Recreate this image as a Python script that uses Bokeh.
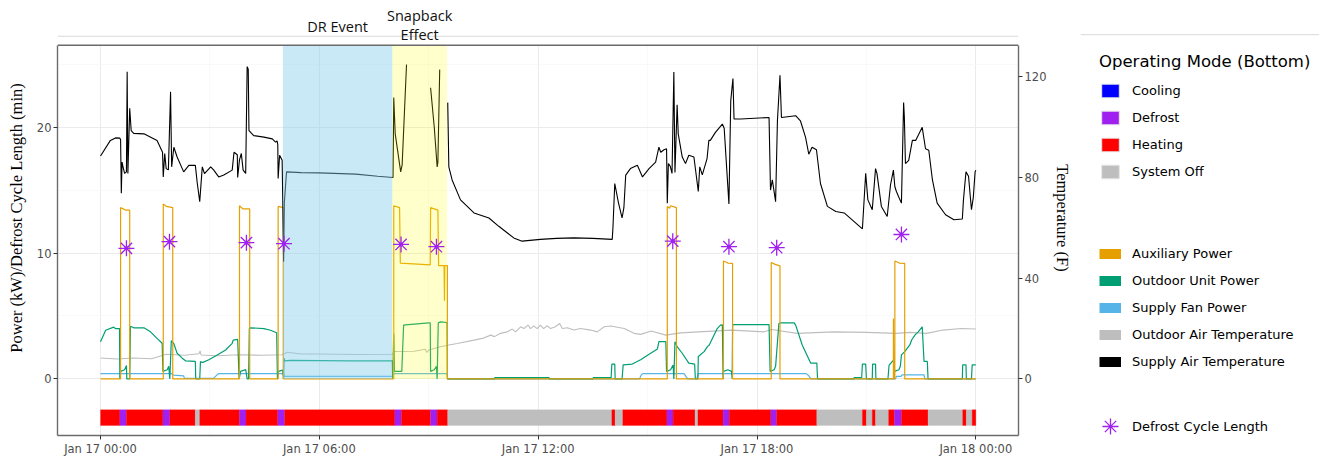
from bokeh.plotting import figure
from bokeh.layouts import row
from bokeh.models import (Range1d, LinearAxis, FixedTicker, Label, Legend, LegendItem,
                          Span, ColumnDataSource)
from bokeh.embed import file_html
from bokeh.resources import INLINE

NaN = float("nan")

# ---------------- data (hours since Jan 17 00:00) ----------------
x_ticks = [0, 6, 12, 18, 24]
x_tick_labels = ["Jan 17 00:00", "Jan 17 06:00", "Jan 17 12:00", "Jan 17 18:00", "Jan 18 00:00"]
y_ticks = [0, 10, 20]
t_ticks = [0, 40, 80, 120]

events = ["DR Event", "Snapback Effect"]
event_start = [5.0, 8.0]
event_end = [8.0, 9.5]

mode_bounds = [0, 0.53, 0.71, 1.71, 1.90, 2.60, 2.72, 3.81, 3.99, 4.86, 5.05, 8.07, 8.25, 9.05,
               9.23, 9.52, 14.02, 14.11, 14.32, 15.53, 15.70, 16.30, 16.38, 17.07, 17.24, 18.38,
               18.54, 19.64, 20.89, 21.00, 21.16, 21.25, 21.61, 21.77, 21.96, 22.69, 23.64, 23.74,
               23.90, 24.00]
mode_state = ["Heating", "Defrost", "Heating", "Defrost", "Heating", "System Off", "Heating",
              "Defrost", "Heating", "Defrost", "Heating", "Defrost", "Heating", "Defrost",
              "Heating", "System Off", "Heating", "System Off", "Heating", "Defrost", "Heating",
              "System Off", "Heating", "Defrost", "Heating", "Defrost", "Heating", "System Off",
              "Heating", "System Off", "Heating", "System Off", "Heating", "Defrost", "Heating",
              "System Off", "Heating", "System Off", "Heating"]
mode_names = ["Cooling", "Defrost", "Heating", "System Off"]
mode_colors = ["#0000FF", "#A020F0", "#FF0000", "#BEBEBE"]

aux_power = [(0, 0), (0.55, 0), (0.55, 13.6), (0.70, 13.4), (0.80, 13.4), (0.80, 0),
             (1.72, 0), (1.72, 13.9), (1.80, 13.7), (1.98, 13.6), (1.98, 0),
             (3.81, 0), (3.81, 13.75), (3.90, 13.5), (4.09, 13.5), (4.09, 0),
             (4.87, 0), (4.87, 13.7), (5.01, 13.6), (5.01, 0),
             (8.04, 0), (8.04, 13.75), (8.20, 13.6), (8.22, 9.2), (9.04, 9.05), (9.05, 13.6),
             (9.25, 13.4), (9.27, 9.0), (9.42, 9.0), (9.43, 6.2), (9.44, 9.0), (9.51, 9.0), (9.51, 0),
             (15.54, 0), (15.54, 13.7), (15.60, 13.55), (15.63, 13.75), (15.79, 13.6), (15.79, 0),
             (17.08, 0), (17.08, 9.37), (17.20, 9.2), (17.33, 9.17), (17.33, 0),
             (18.39, 0), (18.39, 9.25), (18.50, 9.1), (18.63, 8.98), (18.63, 0),
             (21.74, 0), (21.74, 4.8), (21.75, 0), (21.78, 0), (21.78, 9.37), (21.90, 9.2),
             (22.05, 9.17), (22.05, 0), (24.0, 0)]

outdoor_power = [(0.00, 2.96), (0.14, 3.87), (0.36, 4.11), (0.41, 4.0), (0.52, 4.0), (0.53, 0.0),
                 (0.55, 0.6), (0.66, 0.73), (0.71, 1.07), (0.72, 0.0), (0.80, 0.0), (0.82, 4.19),
                 (0.91, 4.06), (1.19, 4.06), (1.37, 3.74), (1.55, 3.22), (1.69, 2.83), (1.71, 0.6),
                 (1.83, 0.73), (1.87, 1.0), (1.90, 0.0), (1.94, 3.04), (2.01, 2.8), (2.10, 2.04),
                 (2.24, 1.65), (2.33, 1.44), (2.60, 1.39), (2.61, 0.0), (2.72, 0.0), (2.74, 1.39),
                 (2.79, 1.3), (2.97, 1.52), (3.20, 1.91), (3.43, 2.30), (3.61, 2.83), (3.64, 3.09),
                 (3.76, 3.14), (3.80, 0.0), (3.84, 0.6), (3.98, 0.75), (4.02, 0.0), (4.06, 0.0),
                 (4.08, 4.0), (4.11, 4.06), (4.48, 4.0), (4.66, 3.87), (4.83, 3.67), (4.85, 0.0),
                 (4.88, 0.6), (4.99, 0.7), (5.02, 0.0), (5.03, 1.65), (5.05, 1.44), (5.21, 1.47),
                 (6.85, 1.44), (8.00, 1.44), (8.01, 0.0), (8.04, 3.61), (8.06, 0.6), (8.23, 0.6),
                 (8.26, 0.6), (8.31, 4.27), (8.36, 4.3), (9.00, 4.45), (9.04, 4.45), (9.05, 0.6),
                 (9.15, 0.73), (9.21, 1.0), (9.23, 0.0), (9.26, 4.45), (9.32, 4.53), (9.45, 4.5),
                 (9.50, 4.45), (9.51, 0.0), (10.80, 0.0), (10.81, 0.1), (12.30, 0.1), (12.31, 0.0),
                 (13.50, 0.0), (13.51, 0.1), (14.00, 0.1), (14.02, 1.18), (14.10, 1.18), (14.11, 0.0),
                 (14.30, 0.0), (14.33, 1.12), (14.58, 1.18), (14.81, 1.52), (15.04, 1.96),
                 (15.27, 2.38), (15.31, 2.96), (15.50, 2.96), (15.52, 0.6), (15.63, 0.73),
                 (15.70, 1.1), (15.72, 0.0), (15.75, 2.96), (15.81, 2.57), (15.95, 2.04),
                 (16.13, 1.26), (16.29, 1.18), (16.31, 0.0), (16.38, 0.0), (16.39, 1.78),
                 (16.44, 1.9), (16.55, 2.17), (16.64, 2.57), (16.69, 2.7), (16.91, 4.0),
                 (17.00, 4.27), (17.05, 4.3), (17.07, 0.0), (17.08, 0.6), (17.20, 0.73),
                 (17.30, 0.6), (17.32, 0.0), (17.33, 4.27), (17.37, 4.32), (18.33, 4.32),
                 (18.36, 0.6), (18.47, 0.73), (18.51, 1.0), (18.60, 4.40), (18.65, 4.45),
                 (19.02, 4.45), (19.06, 4.27), (19.24, 2.7), (19.47, 1.26), (19.64, 1.26),
                 (19.66, 0.0), (20.65, 0.0), (20.66, 0.1), (20.87, 0.1), (20.89, 1.18),
                 (20.98, 1.18), (21.00, 0.0), (21.16, 0.0), (21.17, 1.18), (21.25, 1.18),
                 (21.26, 0.0), (21.59, 0.0), (21.62, 1.07), (21.71, 1.39), (21.76, 1.52),
                 (21.77, 0.6), (21.89, 0.73), (21.93, 1.0), (21.96, 1.91), (22.05, 2.17),
                 (22.19, 2.70), (22.24, 3.09), (22.33, 3.48), (22.42, 3.74), (22.53, 4.14),
                 (22.58, 1.39), (22.67, 1.39), (22.69, 0.0), (23.63, 0.0), (23.64, 1.12),
                 (23.73, 1.12), (23.74, 0.0), (23.88, 0.0), (23.90, 1.12), (24.00, 1.12)]

fan_power = [(0, 0.42), (1.95, 0.42), (2.00, 0.3), (2.28, 0.25), (2.30, 0.05), (3.10, 0.05),
             (3.20, 0.35), (3.25, 0.42), (5.02, 0.42), (5.04, 0.2), (8.00, 0.2), (8.03, 0.42),
             (9.50, 0.42), (9.52, 0.0), (14.78, 0.0), (14.82, 0.3), (14.87, 0.42), (16.00, 0.42),
             (16.05, 0.2), (16.10, 0.0), (16.35, 0.0), (16.39, 0.42), (19.35, 0.42),
             (19.42, 0.25), (19.48, 0.0), (21.80, 0.0), (21.82, 0.2), (21.95, 0.2),
             (21.97, 0.32), (22.58, 0.32), (22.60, 0.0), (24.0, 0.0)]

outdoor_air_temp = [(0.00, 8.3), (0.46, 7.9), (0.90, 8.3), (1.40, 8.0), (1.80, 9.8), (2.30, 9.4),
                    (2.70, 10.0), (2.73, 11.1), (2.76, 9.5), (3.20, 9.2), (3.80, 9.6), (4.40, 9.4),
                    (4.98, 9.6), (5.12, 10.6), (5.50, 9.9), (6.00, 9.9), (7.00, 9.7), (8.00, 9.8),
                    (8.05, 10.9), (8.60, 11.0), (8.90, 11.8), (8.95, 10.5), (9.00, 11.5),
                    (9.32, 12.8), (9.55, 13.5), (9.78, 14.1), (10.24, 15.4), (10.47, 16.1),
                    (10.70, 17.4), (10.80, 16.8), (10.97, 18.1), (11.15, 18.7), (11.29, 19.8),
                    (11.38, 18.7), (11.52, 20.7), (11.61, 20.0), (11.72, 21.4), (11.79, 20.0),
                    (11.88, 21.1), (11.97, 20.0), (12.06, 21.4), (12.15, 20.0), (12.24, 21.1),
                    (12.34, 20.0), (12.47, 20.7), (12.59, 22.0), (12.66, 20.0), (12.80, 20.3),
                    (12.98, 19.4), (13.16, 20.0), (13.44, 19.4), (13.62, 18.7), (13.81, 20.7),
                    (13.99, 21.0), (14.36, 20.0), (14.63, 18.1), (14.81, 17.7), (15.10, 19.0),
                    (15.50, 17.4), (15.90, 18.3), (16.40, 18.7), (17.30, 19.4), (18.20, 18.7),
                    (18.40, 19.6), (19.10, 18.1), (20.10, 18.7), (21.00, 18.5), (21.80, 18.1),
                    (22.20, 18.5), (22.65, 18.1), (23.10, 19.4), (23.60, 20.0), (24.00, 19.8)]

supply_air_temp = [(0.00, 88.5), (0.27, 94.7), (0.41, 95.7), (0.53, 95.6), (0.55, 95.0),
                   (0.57, 73.7), (0.59, 86.1), (0.62, 84.0), (0.66, 81.6), (0.71, 82.2),
                   (0.73, 122.0), (0.75, 81.6), (0.80, 107.5), (0.84, 98.6), (0.91, 97.5),
                   (1.19, 97.3), (1.55, 94.7), (1.70, 90.0), (1.72, 80.2), (1.76, 89.5),
                   (1.80, 83.5), (1.86, 83.0), (1.92, 114.0), (1.95, 84.2), (2.01, 92.0),
                   (2.10, 88.1), (2.28, 82.2), (2.42, 84.8), (2.60, 84.8), (2.65, 78.0),
                   (2.72, 70.4), (2.79, 84.2), (2.85, 81.5), (3.02, 84.2), (3.10, 83.0),
                   (3.24, 80.2), (3.38, 81.0), (3.61, 82.9), (3.66, 90.0), (3.75, 89.0),
                   (3.76, 80.0), (3.81, 87.0), (3.86, 89.5), (3.91, 82.9), (3.98, 81.6),
                   (4.02, 124.0), (4.05, 123.0), (4.07, 98.6), (4.20, 96.6), (4.48, 96.0),
                   (4.71, 95.3), (4.80, 94.0), (4.84, 94.5), (4.86, 93.0), (4.87, 79.6),
                   (4.91, 88.8), (4.98, 86.8), (5.02, 46.5), (5.04, 70.0), (5.10, 82.2),
                   (5.50, 81.9), (6.00, 81.8), (7.00, 81.3), (7.60, 80.5), (8.02, 80.0),
                   (8.04, 111.7), (8.08, 97.3), (8.23, 82.2), (8.27, 85.0), (8.39, 124.8),
                   (8.40, NaN), (9.05, 115.6), (9.15, 100.0), (9.23, 84.2), (9.25, 86.0),
                   (9.30, 122.8), (9.31, NaN), (9.52, 109.7), (9.55, 84.2), (9.64, 79.0),
                   (9.87, 71.1), (10.24, 65.9), (10.65, 63.9), (10.92, 60.6), (11.33, 56.0),
                   (11.56, 54.7), (12.06, 55.4), (12.50, 55.8), (12.98, 56.0), (13.50, 55.8),
                   (14.03, 55.4), (14.05, 60.0), (14.10, 77.6), (14.20, 70.0), (14.30, 63.9),
                   (14.35, 68.0), (14.40, 80.9), (14.53, 83.5), (14.72, 84.8), (14.86, 80.2),
                   (15.04, 83.5), (15.22, 86.1), (15.31, 92.0), (15.36, 90.0), (15.45, 91.0),
                   (15.52, 91.4), (15.54, 69.8), (15.57, 85.5), (15.62, 84.5), (15.67, 81.6),
                   (15.72, 121.9), (15.75, 82.0), (15.81, 108.8), (15.84, 97.3), (15.95, 88.1),
                   (16.04, 85.5), (16.13, 88.8), (16.27, 88.1), (16.39, 74.4), (16.43, 84.2),
                   (16.50, 81.0), (16.63, 87.5), (16.68, 94.7), (16.72, 94.7), (16.86, 97.9),
                   (17.05, 101.2), (17.10, 99.5), (17.23, 69.5), (17.28, 110.4), (17.34, 119.3),
                   (17.37, 103.2), (17.55, 103.2), (18.33, 103.8), (18.37, 75.0), (18.42, 79.0),
                   (18.51, 70.4), (18.56, 102.5), (18.63, 120.6), (18.67, 103.8), (19.06, 104.5),
                   (19.19, 102.5), (19.33, 96.0), (19.42, 89.2), (19.51, 92.0), (19.63, 91.0),
                   (19.74, 77.6), (19.93, 68.5), (20.16, 66.5), (20.39, 65.9), (20.89, 59.6),
                   (20.98, 81.6), (21.04, 71.1), (21.16, 67.2), (21.25, 83.5), (21.29, 81.5),
                   (21.41, 68.5), (21.57, 64.5), (21.66, 77.0), (21.74, 82.9), (21.78, 76.3),
                   (21.82, 74.5), (21.88, 72.4), (21.96, 69.8), (22.02, 109.7), (22.04, 104.0),
                   (22.07, 85.5), (22.16, 86.8), (22.26, 94.7), (22.35, 94.7), (22.53, 99.9),
                   (22.62, 91.4), (22.71, 90.8), (22.81, 79.0), (22.94, 69.8), (23.17, 65.2),
                   (23.40, 63.2), (23.63, 63.5), (23.66, 71.0), (23.73, 82.2), (23.80, 80.5),
                   (23.88, 67.2), (23.93, 72.0), (23.98, 82.2), (24.00, 82.9)]

defrost_time = [0.71, 1.89, 4.00, 5.03, 8.24, 9.21, 15.69, 17.23, 18.54, 21.96]
defrost_length = [10.37, 10.9, 10.82, 10.74, 10.68, 10.5, 10.94, 10.5, 10.42, 11.47]

series_names = ["Auxiliary Power", "Outdoor Unit Power", "Supply Fan Power",
                "Outdoor Air Temperature", "Supply Air Temperature"]
series_colors = ["#E69F00", "#009E73", "#56B4E9", "#BEBEBE", "black"]
DEFROST_COLOR = "#A020F0"

# ---------------- layout constants (pixels / axis limits) ----------------
FIG_H = 458
MAIN_W = 1080
LEG_W = 239
FRAME_L, FRAME_R_BORDER = 57, 62
FRAME_BOTTOM_BORDER = 20
PANEL_TOP_PX = 45                   # panel top, px from figure top
FRAME_H = FIG_H - FRAME_BOTTOM_BORDER
X0, X1 = -1.18, 25.17
Y0, Y1 = -4.49, 26.5                # visible power range of the panel
PX_PER_UNIT = (FRAME_H - PANEL_TOP_PX) / (Y1 - Y0)
Y_TOP = Y1 + PANEL_TOP_PX / PX_PER_UNIT   # frame extends above the panel for header text
TEMP_PER_KW = 5.0
BAR_BOTTOM, BAR_TOP = -3.7, -2.45
BORDER_COLOR = "#6b6b6b"
SEP_PX = 36                          # separator line, px from top

p = figure(width=MAIN_W, height=FIG_H, output_backend="svg", toolbar_location=None,
           x_range=Range1d(X0, X1), y_range=Range1d(Y0, Y_TOP),
           min_border_left=FRAME_L, min_border_right=FRAME_R_BORDER, min_border_top=0,
           min_border_bottom=FRAME_BOTTOM_BORDER)
p.extra_y_ranges = {"temp": Range1d(Y0 * TEMP_PER_KW, Y_TOP * TEMP_PER_KW)}
p.background_fill_color = "white"
p.border_fill_color = "white"
p.outline_line_color = None

p.xaxis.ticker = FixedTicker(ticks=x_ticks, minor_ticks=[-3, 3, 9, 15, 21])
p.xaxis.major_label_overrides = {t: l for t, l in zip(x_ticks, x_tick_labels)}
p.yaxis.ticker = FixedTicker(ticks=y_ticks, minor_ticks=[-5, 5, 15, 25])
p.yaxis.axis_label = "Power (kW)/Defrost Cycle Length (min)"
p.yaxis.bounds = (Y0, Y1)

right = LinearAxis(y_range_name="temp", ticker=FixedTicker(ticks=t_ticks),
                   axis_label="Temperature (F)", bounds=(Y0 * TEMP_PER_KW, Y1 * TEMP_PER_KW))
p.add_layout(right, "right")

for ax in [p.xaxis[0], p.yaxis[0], right]:
    ax.major_label_text_font = "DejaVu Sans"
    ax.major_label_text_font_size = "11.5px"
    ax.major_label_text_color = "#4D4D4D"
    ax.major_tick_line_color = "#333333"
    ax.major_tick_out = 4
    ax.major_tick_in = 0
    ax.minor_tick_line_color = None
    ax.axis_line_color = BORDER_COLOR
    ax.axis_line_width = 1.4
    ax.major_label_standoff = 2
    ax.axis_label_text_font = "Liberation Serif"
    ax.axis_label_text_font_size = "16.5px"
    ax.axis_label_text_font_style = "normal"
    ax.axis_label_text_color = "black"
p.yaxis[0].axis_label_standoff = 8
right.axis_label_standoff = 4

p.xgrid.grid_line_color = "#EBEBEB"
p.ygrid.grid_line_color = "#EBEBEB"
p.xgrid.minor_grid_line_color = "#F5F5F5"
p.ygrid.minor_grid_line_color = "#F5F5F5"
p.xgrid.minor_grid_line_width = 0.6
p.ygrid.minor_grid_line_width = 0.6

# white mask over the header strip (hides grid lines above the panel)
p.quad(left=[X0], right=[X1], bottom=[Y1], top=[Y_TOP], fill_color="white",
       line_color=None)

# panel top border and the page separator line
p.add_layout(Span(location=Y1, dimension="width", line_color=BORDER_COLOR, line_width=1.4))
p.add_layout(Span(location=Y_TOP - SEP_PX / PX_PER_UNIT, dimension="width",
                  line_color="#D9D9D9", line_width=1))


def xy(pairs):
    return [a for a, _ in pairs], [b for _, b in pairs]


# mode bar
src_mode = ColumnDataSource(dict(
    left=mode_bounds[:-1], right=mode_bounds[1:],
    color=[mode_colors[mode_names.index(s)] for s in mode_state]))
p.quad(left="left", right="right", bottom=BAR_BOTTOM, top=BAR_TOP, fill_color="color",
       line_color="color", line_width=0.3, source=src_mode)

# lines
xo, yo = xy(outdoor_air_temp)
p.line(xo, yo, y_range_name="temp", line_color=series_colors[3], line_width=1.1)
xf, yf = xy(fan_power)
p.line(xf, yf, line_color=series_colors[2], line_width=1.2)
xg, yg = xy(outdoor_power)
p.line(xg, yg, line_color=series_colors[1], line_width=1.2)
xa, ya = xy(aux_power)
p.line(xa, ya, line_color=series_colors[0], line_width=1.2)
xs, ys = xy(supply_air_temp)
p.line(xs, ys, y_range_name="temp", line_color=series_colors[4], line_width=1.1)

# event shading (from 0 to top of panel)
shade_colors = ["#87CEEB", "#FFFF00"]
shade_alpha = [0.45, 0.2]
src_shade = ColumnDataSource(dict(left=event_start, right=event_end, color=shade_colors,
                                  alpha=shade_alpha))
p.quad(left="left", right="right", bottom=0, top=Y1, fill_color="color", fill_alpha="alpha",
       line_color=None, source=src_shade)

# defrost cycle markers
p.scatter(defrost_time, defrost_length, marker="asterisk", size=16, line_color=DEFROST_COLOR,
          line_width=1.3)
p.scatter(defrost_time, defrost_length, marker="circle", size=4, fill_color=DEFROST_COLOR,
          line_color=None)

# event labels above the panel
for name, s, e in zip(events, event_start, event_end):
    words = name.split(" ") if name.startswith("Snapback") else [name]
    offs = [30, 11] if len(words) == 2 else [19]
    for w, o in zip(words, offs):
        p.add_layout(Label(x=(s + e) / 2, y=Y1, y_offset=o, text=w, text_align="center",
                           text_baseline="middle", text_font="Open Sans",
                           text_font_size="14.5px", text_color="#111111"))

# ---------------- legend panel ----------------
lg = figure(width=LEG_W, height=FIG_H, output_backend="svg", toolbar_location=None,
            x_range=Range1d(0, LEG_W), y_range=Range1d(0, FIG_H),
            x_axis_location=None, y_axis_location=None,
            min_border_left=0, min_border_right=0, min_border_top=0, min_border_bottom=0)
lg.grid.visible = False
lg.outline_line_color = None
lg.background_fill_color = "white"
lg.border_fill_color = "white"
lg.add_layout(Span(location=FIG_H - SEP_PX, dimension="width", line_color="#D9D9D9",
                   line_width=1))

# legend proxies: one point each, placed outside the legend panel's visible range
OFF = [-1000]
mode_items = []
for n, c in zip(mode_names, mode_colors):
    r = lg.quad(left=OFF, right=OFF, top=OFF, bottom=OFF, fill_color=c, line_color="#E6E6E6",
                line_width=1)
    mode_items.append(LegendItem(label=n, renderers=[r]))

series_items = []
for n, c in zip(series_names, series_colors):
    r = lg.line(x=OFF * 2, y=OFF * 2, line_color=c, line_width=10, line_cap="butt")
    series_items.append(LegendItem(label=n, renderers=[r]))

r_def = lg.scatter(x=OFF, y=OFF, marker="asterisk", line_color=DEFROST_COLOR, line_width=1.3)
def_items = [LegendItem(label="Defrost Cycle Length", renderers=[r_def])]


def make_legend(items, loc, title=None, gw=22, gh=17, standoff=11):
    leg = Legend(items=items, location=loc, glyph_width=gw, glyph_height=gh,
                 label_height=20, spacing=7, padding=0, margin=0, border_line_color=None,
                 background_fill_alpha=0, label_text_font="DejaVu Sans",
                 label_text_font_size="13px", label_text_color="black",
                 label_standoff=standoff)
    if title:
        leg.title = title
        leg.title_text_font = "DejaVu Sans"
        leg.title_text_font_size = "16.5px"
        leg.title_text_font_style = "normal"
        leg.title_text_color = "black"
        leg.title_standoff = 9
    return leg


lg.add_layout(make_legend(mode_items, (19, 254), title="Operating Mode (Bottom)"))
lg.add_layout(make_legend(series_items, (19, 64)))
lg.add_layout(make_legend(def_items, (10, -11), gw=40, gh=40, standoff=2))

layout = row(p, lg)
open("out.html", "w").write(file_html(layout, INLINE))
